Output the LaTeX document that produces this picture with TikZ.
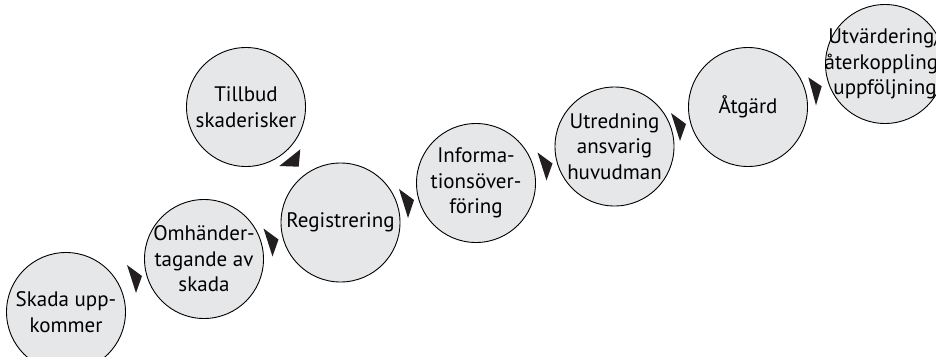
\documentclass[tikz,border=0pt]{standalone}
\usepackage{fontspec}
\setmainfont{PT Sans}
\usetikzlibrary{calc}
\definecolor{bubblefill}{HTML}{E6E7E8}
\definecolor{tipfill}{HTML}{231F20}
\tikzset{
  bubble/.style={circle, draw=black, line width=0.9pt, fill=bubblefill, minimum size=119pt, inner sep=0pt},
  txt/.style={align=center, inner sep=0pt, font=\fontsize{21}{25.5}\selectfont, text=black},
  tip/.style={fill=tipfill, draw=none}
}
\newcommand{\steptip}[1]{%
  \fill[tip] ($(#1)+(-77,6)$) -- ($(#1)+(-62,17)$) -- ($(#1)+(-68,34)$) -- cycle;}
\begin{document}
\begin{tikzpicture}[x=1pt,y=-1pt]
\useasboundingbox (0,0) rectangle (936,356);
\clip (0,0) rectangle (936,356);
\node[bubble] (c1) at (66,312) {};
\node[bubble] (c2) at (204,259) {};
\node[bubble] (c3) at (246,107) {};
\node[bubble] (c4) at (340.5,222.5) {};
\node[bubble] (c5) at (476,183) {};
\node[bubble] (c6) at (614.5,146.5) {};
\node[bubble] (c7) at (748,107) {};
\node[bubble] (c8) at (885,64) {};
\node[txt] (t1) at (c1) {Skada upp-\\kommer};
\node[txt] (t2) at (c2) {Omhänder-\\tagande av\\skada};
\node[txt] (t3) at (c3) {Tillbud\\skaderisker};
\node[txt] (t4) at (c4) {Registrering};
\node[txt] (t5) at (c5) {Informa-\\tionsöver-\\föring};
\node[txt] (t6) at (c6) {Utredning\\ansvarig\\huvudman};
\node[txt] (t7) at (c7) {Åtgärd};
\node[txt] (t8) at (c8) {Utvärdering/\\återkoppling/\\uppföljning};
\steptip{c2}
\steptip{c4}
\fill[tip] ($(c5)+(-77,6)$) -- ($(c5)+(-62,17)$) -- ($(c5)+(-68,35)$) -- cycle;
\steptip{c6}
\steptip{c7}
\fill[tip] ($(c8)+(-76.7,13.3)$) -- ($(c8)+(-63.3,22.3)$) -- ($(c8)+(-69,41.3)$) -- cycle;
\fill[tip] ($(c3)+(54.3,42.3)$) -- ($(c3)+(33.3,59)$) -- ($(c3)+(52.7,59.7)$) -- cycle;
\end{tikzpicture}
\end{document}
